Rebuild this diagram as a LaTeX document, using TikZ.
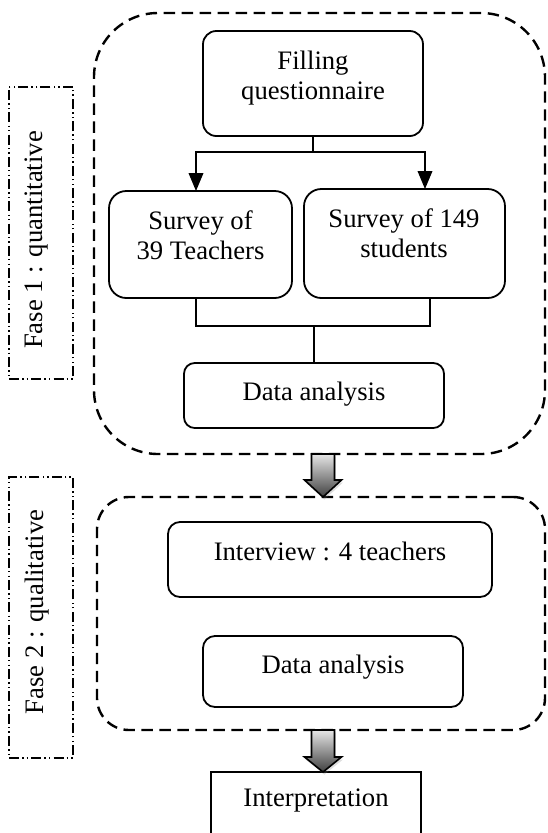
\documentclass[tikz,border=0pt]{standalone}
\usepackage{fontspec}
\setmainfont{Liberation Serif}
\usetikzlibrary{arrows.meta,fit,shadows,calc}
\begin{document}
\begin{tikzpicture}[x=0.75pt,y=-0.75pt,
  font=\fontsize{20}{22}\selectfont,
  box/.style={draw, line width=1.35pt, inner sep=0pt},
  grp/.style={draw, line width=1.8pt, dash pattern=on 8.5pt off 5pt, inner sep=0pt},
  side/.style={draw, line width=1.25pt, dash pattern=on 7.5pt off 2.4pt on 1pt off 2.4pt on 1pt off 2.4pt, inner sep=0pt},
  lbl/.style={anchor=base, align=center, inner sep=0pt},
  conn/.style={line width=1.2pt},
  arr/.style={conn, -{Triangle[width=11pt,length=13.5pt]}},
  blk/.style={draw=black, line width=1.2pt, top color=gray!20, bottom color=black!75,
     drop shadow={opacity=0.25, shadow xshift=1pt, shadow yshift=-2pt}}
]
\useasboundingbox (0,0) rectangle (547,833);

% side labels
\node[side, fit={(9,87) (73,379)}] (side1) {};
\node[rotate=90, inner sep=0pt] (lab1) at (37,240) {Fase 1 : quantitative};
\node[side, fit={(9,477) (73,758)}] (side2) {};
\node[rotate=90, inner sep=0pt] (lab2) at (37,612) {Fase 2 : qualitative};

% group frames
\node[grp, rounded corners=48pt, fit={(94,13) (545,454)}] (g1) {};
\node[grp, rounded corners=24pt, fit={(97,497) (545,730)}] (g2) {};

% boxes
\node[box, rounded corners=10pt, fit={(203,31) (423,136)}] (fill) {};
\node[lbl] (tfill) at (313,99) {Filling\\questionnaire};

\node[box, rounded corners=13pt, fit={(109,191) (292,298)}] (s1) {};
\node[lbl] (ts1) at (200.5,259) {Survey of\\39 Teachers};

\node[box, rounded corners=13pt, fit={(304,189) (505,298)}] (s2) {};
\node[lbl] (ts2) at (404,257) {Survey of 149\\students};

\node[box, rounded corners=8pt, fit={(184,363) (444,428)}] (da1) {};
\node[lbl] (tda1) at (314,400) {Data analysis};

\node[box, rounded corners=9pt, fit={(168,522) (492,597)}] (iv) {};
\node[lbl] (tiv) at (330,560) {Interview : 4 teachers};

\node[box, rounded corners=9pt, fit={(203,636) (463,707)}] (da2) {};
\node[lbl] (tda2) at (333,673) {Data analysis};

\node[box, fit={(211,772) (421,860)}] (interp) {};
\node[lbl] (tinterp) at (316,806) {Interpretation};

% connectors
\coordinate (j0) at (313,152);
\coordinate (t1) at (196,191);
\coordinate (t2) at (425,189);
\draw[conn] (fill.south) -- (j0);
\draw[arr] (j0) -| (t1);
\draw[arr] (j0) -| (t2);

\coordinate (b1) at (196,298);
\coordinate (b2) at (430,298);
\coordinate (m) at (314,326);
\draw[conn] (b1) |- (m) -| (b2);
\draw[conn] (m) -- (da1.north);

% block arrows
\coordinate (k1) at (323,454);
\draw[blk] ($(k1)+(-11.5,0)$) -- ($(k1)+(11.5,0)$) -- ($(k1)+(11.5,26)$) -- ($(k1)+(18.5,26)$)
  -- ($(k1)+(0,43)$) -- ($(k1)+(-18.5,26)$) -- ($(k1)+(-11.5,26)$) -- cycle;
\coordinate (k2) at (323,730);
\draw[blk] ($(k2)+(-11.5,0)$) -- ($(k2)+(11.5,0)$) -- ($(k2)+(11.5,27)$) -- ($(k2)+(18.5,27)$)
  -- ($(k2)+(0,42)$) -- ($(k2)+(-18.5,27)$) -- ($(k2)+(-11.5,27)$) -- cycle;
\end{tikzpicture}
\end{document}
